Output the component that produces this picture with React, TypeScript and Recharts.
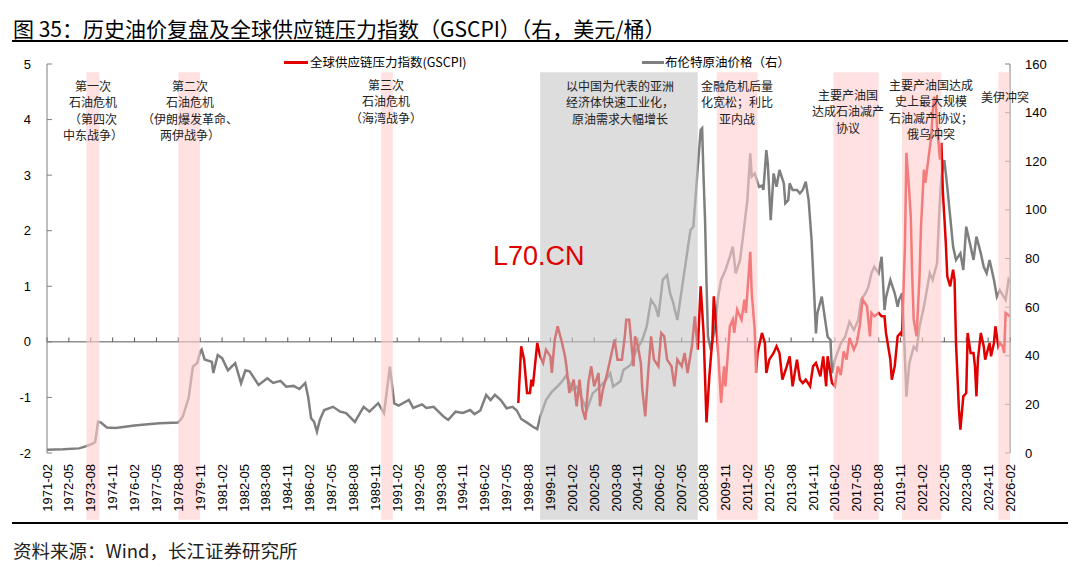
import { LineChart, Line, XAxis, YAxis, ReferenceArea, ReferenceLine } from "recharts"

// month labels shown on the x axis (every 15 months)
const tickMonths = [
  "1971-02", "1972-05", "1973-08", "1974-11", "1976-02", "1977-05", "1978-08", "1979-11",
  "1981-02", "1982-05", "1983-08", "1984-11", "1986-02", "1987-05", "1988-08", "1989-11",
  "1991-02", "1992-05", "1993-08", "1994-11", "1996-02", "1997-05", "1998-08", "1999-11",
  "2001-02", "2002-05", "2003-08", "2004-11", "2006-02", "2007-05", "2008-08", "2009-11",
  "2011-02", "2012-05", "2013-08", "2014-11", "2016-02", "2017-05", "2018-08", "2019-11",
  "2021-02", "2022-05", "2023-08", "2024-11", "2026-02",
]

const leftTicks = [-2, -1, 0, 1, 2, 3, 4, 5]
const rightTicks = [0, 20, 40, 60, 80, 100, 120, 140, 160]

// 全球供应链压力指数 (left axis)
const gscpi: [string, number][] = [
  ["1998-01", -1.1], ["1998-03", -0.08], ["1998-05", -0.32], ["1998-07", -0.92], ["1998-09", -0.92],
  ["1998-10", -0.68], ["1998-11", -0.8], ["1999-02", -0.02], ["1999-04", -0.26], ["1999-06", -0.38],
  ["1999-08", -0.14], ["1999-11", -0.26], ["1999-12", -0.56], ["2000-02", 0.04], ["2000-04", 0.28],
  ["2000-07", -0.02], ["2000-09", -0.26], ["2000-10", -0.44], ["2000-12", -0.92], ["2001-03", -0.68],
  ["2001-05", -1.16], ["2001-07", -0.68], ["2001-09", -1.22], ["2001-11", -1.4], ["2002-01", -0.74],
  ["2002-03", -0.44], ["2002-05", -0.8], ["2002-08", -0.56], ["2002-09", -1.16], ["2002-11", -0.86],
  ["2003-02", -0.56], ["2003-05", -0.2], ["2003-07", 0.04], ["2003-09", -0.32], ["2003-12", -0.32],
  ["2004-02", 0.1], ["2004-03", 0.4], ["2004-05", 0.4], ["2004-08", -0.44], ["2004-09", 0.1],
  ["2004-11", -0.08], ["2005-01", -0.38], ["2005-02", -0.86], ["2005-04", -1.34], ["2005-06", -0.56],
  ["2005-08", 0.1], ["2005-10", -0.32], ["2006-01", -0.44], ["2006-03", 0.16], ["2006-05", 0.1],
  ["2006-07", -0.32], ["2006-10", -0.44], ["2006-12", -0.8], ["2007-02", -0.32], ["2007-05", -0.44],
  ["2007-07", -0.2], ["2007-09", -0.56], ["2007-12", -0.08], ["2008-02", 0.46], ["2008-04", -0.14],
  ["2008-06", 1.0], ["2008-08", 0.16], ["2008-10", -1.45], ["2008-12", -0.6], ["2009-02", 0.04],
  ["2009-03", 0.82], ["2009-05", 0.16], ["2009-06", -0.2], ["2009-08", -1.1], ["2009-10", -0.44],
  ["2009-11", -0.8], ["2010-02", 0.28], ["2010-04", 0.4], ["2010-05", 0.16], ["2010-07", 0.58],
  ["2010-10", 0.4], ["2010-12", 0.76], ["2011-01", 0.52], ["2011-04", 1.62], ["2011-05", 0.88],
  ["2011-07", 0.22], ["2011-08", -0.56], ["2011-09", -0.2], ["2011-12", 0.16], ["2012-02", -0.02],
  ["2012-03", -0.56], ["2012-05", -0.32], ["2012-08", -0.2], ["2012-10", -0.08], ["2012-12", -0.2],
  ["2013-02", -0.68], ["2013-05", -0.44], ["2013-07", -0.26], ["2013-09", -0.8], ["2013-12", -0.32],
  ["2014-02", -0.68], ["2014-04", -0.74], ["2014-06", -0.68], ["2014-09", -0.8], ["2014-11", -0.44],
  ["2015-01", -0.38], ["2015-04", -0.62], ["2015-06", -0.26], ["2015-08", -0.8], ["2015-09", -0.26],
  ["2015-12", -0.74], ["2016-02", -0.8], ["2016-04", -0.44], ["2016-06", -0.6], ["2016-08", -0.17],
  ["2016-10", -0.32], ["2016-12", 0.07], ["2017-03", -0.14], ["2017-05", -0.02], ["2017-07", 0.28],
  ["2017-09", 0.76], ["2017-12", 0.64], ["2018-02", 0.1], ["2018-03", 0.52], ["2018-05", 0.46],
  ["2018-08", 0.52], ["2018-10", 0.46], ["2018-12", 0.46], ["2019-01", 0.16], ["2019-04", -0.32],
  ["2019-05", -0.68], ["2019-07", -0.44], ["2019-09", 0.1], ["2019-11", 0.16], ["2019-12", 0.1],
  ["2020-02", 1.72], ["2020-03", 3.4], ["2020-05", 2.68], ["2020-06", 2.25], ["2020-07", 1.18],
  ["2020-08", 0.4], ["2020-10", 0.1], ["2020-12", 1.18], ["2021-01", 2.07], ["2021-03", 3.1],
  ["2021-04", 2.86], ["2021-06", 3.28], ["2021-08", 3.69], ["2021-09", 4.12], ["2021-10", 4.41],
  ["2021-11", 4.35], ["2021-12", 3.87], ["2022-02", 3.28], ["2022-03", 3.58], ["2022-04", 2.68],
  ["2022-05", 2.25], ["2022-06", 1.78], ["2022-07", 1.18], ["2022-09", 1.0], ["2022-11", 1.3],
  ["2022-12", 1.12], ["2023-01", -0.02], ["2023-03", -1.22], ["2023-04", -1.58], ["2023-06", -0.98],
  ["2023-08", -0.92], ["2023-09", 0.16], ["2023-11", -0.2], ["2024-01", -0.2], ["2024-02", -0.44],
  ["2024-03", -0.98], ["2024-04", -0.32], ["2024-06", 0.16], ["2024-08", -0.08], ["2024-09", -0.32],
  ["2024-12", -0.02], ["2025-01", -0.26], ["2025-03", -0.02], ["2025-04", 0.28], ["2025-06", -0.08],
  ["2025-07", -0.02], ["2025-09", -0.08], ["2025-10", -0.2], ["2025-11", 0.52], ["2026-02", 0.46],
]

// 布伦特原油价格, 美元/桶 (right axis)
const brent: [string, number][] = [
  ["1971-02", 1.3], ["1972-01", 1.5], ["1972-12", 1.9], ["1973-05", 2.8], ["1973-09", 3.8],
  ["1973-11", 4.5], ["1974-01", 12.9], ["1974-03", 12.5], ["1974-07", 10.5], ["1975-01", 10.3],
  ["1976-02", 11.3], ["1977-01", 11.9], ["1977-07", 12.2], ["1978-08", 12.5], ["1978-11", 14.9],
  ["1979-03", 22.5], ["1979-06", 35.5], ["1979-09", 37.0], ["1979-11", 41.7], ["1979-12", 42.5],
  ["1980-02", 38.5], ["1980-07", 37.5], ["1980-08", 32.9], ["1980-11", 40.3], ["1981-02", 39.0],
  ["1981-06", 34.0], ["1981-11", 37.0], ["1982-03", 28.7], ["1982-06", 34.0], ["1982-09", 33.5],
  ["1983-03", 28.0], ["1983-09", 30.7], ["1984-01", 28.8], ["1984-06", 29.7], ["1984-10", 27.3],
  ["1985-03", 27.6], ["1985-07", 26.3], ["1985-11", 28.8], ["1986-01", 23.0], ["1986-03", 14.3],
  ["1986-05", 12.9], ["1986-07", 8.8], ["1986-09", 13.6], ["1986-12", 17.7], ["1987-06", 19.0],
  ["1987-11", 17.0], ["1988-03", 16.4], ["1988-09", 12.8], ["1989-03", 19.0], ["1989-07", 17.0],
  ["1990-01", 20.5], ["1990-05", 16.4], ["1990-09", 35.5], ["1990-12", 20.4], ["1991-03", 19.5],
  ["1991-10", 21.8], ["1992-01", 18.5], ["1992-07", 20.0], ["1992-10", 18.5], ["1993-03", 19.0],
  ["1993-10", 14.9], ["1994-01", 13.6], ["1994-06", 17.0], ["1994-11", 16.5], ["1995-04", 17.7],
  ["1995-07", 16.0], ["1995-11", 17.5], ["1996-03", 23.9], ["1996-06", 21.8], ["1996-09", 23.9],
  ["1997-01", 21.8], ["1997-05", 18.4], ["1997-09", 19.0], ["1997-12", 17.5], ["1998-03", 14.0],
  ["1998-07", 12.5], ["1998-11", 10.8], ["1999-02", 9.8], ["1999-04", 15.0], ["1999-08", 21.8],
  ["1999-12", 25.2], ["2000-06", 28.7], ["2000-10", 32.0], ["2001-02", 25.9], ["2001-05", 27.3],
  ["2001-08", 23.2], ["2001-12", 17.7], ["2002-04", 24.5], ["2002-09", 27.3], ["2003-01", 30.0],
  ["2003-04", 32.8], ["2003-06", 27.3], ["2003-11", 29.5], ["2004-01", 34.1], ["2004-06", 36.2],
  ["2004-10", 42.4], ["2005-02", 46.5], ["2005-05", 52.0], ["2005-08", 63.0], ["2005-11", 60.2],
  ["2006-01", 56.0], ["2006-04", 71.2], ["2006-07", 73.2], ["2006-09", 65.7], ["2006-11", 62.2],
  ["2007-02", 54.7], ["2007-04", 63.0], ["2007-07", 75.3], ["2007-11", 91.7], ["2008-01", 93.1],
  ["2008-03", 109.5], ["2008-06", 132.9], ["2008-07", 133.6], ["2008-08", 113.0], ["2008-09", 96.0],
  ["2008-10", 70.0], ["2008-11", 48.0], ["2009-01", 42.4], ["2009-03", 49.3], ["2009-04", 52.0],
  ["2009-06", 64.3], ["2009-08", 71.2], ["2009-11", 75.3], ["2010-02", 80.7], ["2010-04", 84.9],
  ["2010-06", 73.9], ["2010-09", 79.4], ["2010-11", 89.0], ["2011-02", 104.0], ["2011-04", 123.3],
  ["2011-05", 113.7], ["2011-07", 115.0], ["2011-10", 109.5], ["2011-12", 110.0], ["2012-01", 108.2],
  ["2012-03", 124.6], ["2012-04", 119.0], ["2012-06", 95.8], ["2012-08", 115.0], ["2012-10", 109.5],
  ["2012-12", 116.4], ["2013-03", 110.9], ["2013-04", 102.7], ["2013-06", 104.0], ["2013-07", 110.9],
  ["2013-09", 108.2], ["2013-12", 108.2], ["2014-02", 106.8], ["2014-04", 108.2], ["2014-06", 111.6],
  ["2014-08", 104.0], ["2014-10", 87.6], ["2014-12", 62.9], ["2015-01", 49.2], ["2015-02", 57.5],
  ["2015-05", 64.3], ["2015-07", 56.0], ["2015-09", 47.8], ["2015-11", 46.5], ["2015-12", 32.8],
  ["2016-02", 38.3], ["2016-06", 45.0], ["2016-09", 47.8], ["2016-12", 54.0], ["2017-03", 50.6],
  ["2017-06", 54.7], ["2017-08", 63.0], ["2017-11", 65.7], ["2018-01", 68.4], ["2018-03", 73.9],
  ["2018-05", 76.6], ["2018-08", 73.9], ["2018-10", 80.7], ["2018-11", 70.0], ["2018-12", 58.8],
  ["2019-01", 64.0], ["2019-04", 71.2], ["2019-07", 65.7], ["2019-09", 60.2], ["2019-10", 63.0],
  ["2019-12", 65.7], ["2020-01", 54.7], ["2020-03", 23.2], ["2020-05", 36.9], ["2020-08", 43.7],
  ["2020-10", 42.4], ["2020-12", 52.0], ["2021-03", 60.2], ["2021-05", 67.0], ["2021-07", 73.9],
  ["2021-09", 71.2], ["2021-12", 78.0], ["2022-01", 92.0], ["2022-02", 104.0], ["2022-03", 113.7],
  ["2022-05", 120.5], ["2022-07", 109.5], ["2022-09", 97.2], ["2022-11", 84.9], ["2023-01", 79.4],
  ["2023-04", 82.1], ["2023-06", 75.3], ["2023-08", 93.1], ["2023-11", 84.9], ["2024-01", 79.4],
  ["2024-03", 89.0], ["2024-06", 82.1], ["2024-08", 76.6], ["2024-10", 73.9], ["2024-12", 79.4],
  ["2025-03", 71.2], ["2025-05", 64.3], ["2025-07", 67.0], ["2025-11", 63.0], ["2026-01", 71.2],
  ["2026-02", 70.0],
]

// shaded periods
const pinkBands: [string, string][] = [
  ["1973-05", "1974-02"], ["1978-08", "1979-11"], ["1990-03", "1990-11"], ["2009-05", "2011-09"],
  ["2016-01", "2018-08"], ["2019-12", "2022-03"], ["2025-06", "2026-02"],
]
const grayBand: [string, string] = ["1999-04", "2008-04"]

const notes = [
  { cx: 93, top: 78, lines: ["第一次", "石油危机", "（第四次", "中东战争）"] },
  { cx: 190, top: 78, lines: ["第二次", "石油危机", "（伊朗爆发革命、", "两伊战争）"] },
  { cx: 386, top: 77, lines: ["第三次", "石油危机", "（海湾战争）"] },
  { cx: 620, top: 78, lines: ["以中国为代表的亚洲", "经济体快速工业化，", "原油需求大幅增长"] },
  { cx: 737, top: 78, lines: ["金融危机后量", "化宽松；利比", "亚内战"] },
  { cx: 848, top: 87, lines: ["主要产油国", "达成石油减产", "协议"] },
  { cx: 931, top: 77, lines: ["主要产油国达成", "史上最大规模", "石油减产协议；", "俄乌冲突"] },
  { cx: 1005, top: 89, lines: ["美伊冲突"] },
]

const toIdx = (m: string) => {
  const [y, mo] = m.split("-").map(Number)
  return (y - 1971) * 12 + mo - 2
}

const tickIdx = tickMonths.map(toIdx)
const gscpiData = gscpi.map(([m, v]) => ({ t: toIdx(m), v }))
const brentData = brent.map(([m, v]) => ({ t: toIdx(m), v }))

const CJK = "'Noto Sans CJK SC', 'Noto Sans', sans-serif"
const NUM = "'Liberation Sans', Arial, sans-serif"
const RED = "#e00000"
const GRAY = "#7f7f7f"

function MonthTick(props: any) {
  const { x, y, payload } = props
  const label = tickMonths[tickIdx.indexOf(payload.value)]
  return (
    <text
      x={x}
      y={y}
      transform={`rotate(-90 ${x} ${y})`}
      textAnchor="end"
      dy="0.35em"
      fontSize={13}
      fill="#000"
      fontFamily={NUM}
    >
      {label}
    </text>
  )
}

export default function App() {
  return (
    <div style={{ position: "absolute", left: 0, top: 0, width: 1080, height: 567, background: "#fff", overflow: "hidden" }}>
      <div style={{ position: "absolute", left: 13, top: 14, fontSize: 21, lineHeight: "28px", fontFamily: CJK, color: "#000", whiteSpace: "nowrap" }}>
        图 35：历史油价复盘及全球供应链压力指数（GSCPI）（右，美元/桶）
      </div>
      <div style={{ position: "absolute", left: 12, top: 40, width: 1056, height: 2, background: "#000" }} />

      <div style={{ position: "absolute", left: 0, top: 0 }}>
        <LineChart width={1080} height={567} margin={{ top: 64, right: 30, bottom: 44, left: 7 }}>
          <XAxis
            type="number"
            dataKey="t"
            domain={[0, 660]}
            ticks={tickIdx}
            interval={0}
            allowDataOverflow
            axisLine={false}
            tickLine={false}
            tickSize={0}
            tickMargin={11}
            height={70}
            tick={<MonthTick />}
          />
          <YAxis
            yAxisId="left"
            domain={[-2, 5]}
            ticks={leftTicks}
            interval={0}
            width={40}
            axisLine={{ stroke: GRAY }}
            tickLine={false}
            tickSize={0}
            tickMargin={16}
            tick={{ fontSize: 13, fill: "#000", fontFamily: NUM }}
          />
          <YAxis
            yAxisId="right"
            orientation="right"
            domain={[0, 160]}
            ticks={rightTicks}
            interval={0}
            width={40}
            axisLine={{ stroke: GRAY }}
            tickLine={false}
            tickSize={0}
            tickMargin={15}
            tick={{ fontSize: 13, fill: "#000", fontFamily: NUM, textAnchor: "start" }}
          />
          <ReferenceLine yAxisId="left" y={0} stroke="#595959" strokeWidth={1} />
          {tickIdx.map((t) => (
            <ReferenceLine key={"zt" + t} yAxisId="left" segment={[{ x: t, y: 0 }, { x: t, y: 0.08 }]} stroke="#595959" />
          ))}
          {leftTicks.map((v) => (
            <ReferenceLine key={"lt" + v} yAxisId="left" segment={[{ x: 0, y: v }, { x: 3.4, y: v }]} stroke={GRAY} />
          ))}
          {rightTicks.map((v) => (
            <ReferenceLine key={"rt" + v} yAxisId="right" segment={[{ x: 656.6, y: v }, { x: 660, y: v }]} stroke={GRAY} />
          ))}
          <Line
            yAxisId="right"
            data={brentData}
            dataKey="v"
            stroke={GRAY}
            strokeWidth={2.5}
            dot={false}
            activeDot={false}
            isAnimationActive={false}
          />
          <Line
            yAxisId="left"
            data={gscpiData}
            dataKey="v"
            stroke={RED}
            strokeWidth={2.5}
            dot={false}
            activeDot={false}
            isAnimationActive={false}
          />
          <ReferenceArea
            yAxisId="left"
            x1={toIdx(grayBand[0])}
            x2={toIdx(grayBand[1])}
            y1={-3.2}
            y2={4.85}
            ifOverflow="visible"
            fill="#c6c6c6"
            fillOpacity={0.6}
            stroke="none"
            zIndex={1600}
          />
          {pinkBands.map(([a, b]) => (
            <ReferenceArea
              key={a}
              yAxisId="left"
              x1={toIdx(a)}
              x2={toIdx(b)}
              y1={-3.2}
              y2={4.85}
              ifOverflow="visible"
              fill="#ffcdcd"
              fillOpacity={0.6}
              stroke="none"
              zIndex={1600}
            />
          ))}
        </LineChart>
      </div>

      {/* legend */}
      <div style={{ position: "absolute", left: 284, top: 61, width: 24, height: 2.5, background: RED }} />
      <div style={{ position: "absolute", left: 310, top: 53, fontSize: 12.5, lineHeight: "18px", fontFamily: CJK, color: "#000", whiteSpace: "nowrap" }}>
        全球供应链压力指数(GSCPI)
      </div>
      <div style={{ position: "absolute", left: 642, top: 61, width: 22, height: 2.5, background: GRAY }} />
      <div style={{ position: "absolute", left: 665, top: 53, fontSize: 12.5, lineHeight: "18px", fontFamily: CJK, color: "#000", whiteSpace: "nowrap" }}>
        布伦特原油价格（右）
      </div>

      {notes.map((n) => (
        <div
          key={n.lines[0] + n.cx}
          style={{
            position: "absolute",
            left: n.cx,
            top: n.top,
            transform: "translateX(-50%)",
            textAlign: "center",
            whiteSpace: "nowrap",
            fontSize: 12,
            lineHeight: "16.3px",
            fontFamily: CJK,
            color: "#222",
          }}
        >
          {n.lines.map((l) => (
            <div key={l}>{l}</div>
          ))}
        </div>
      ))}

      <div style={{ position: "absolute", left: 493, top: 240, fontSize: 27, lineHeight: "32px", fontFamily: NUM, color: RED }}>
        L70.CN
      </div>

      <div style={{ position: "absolute", left: 12, top: 522, width: 1056, height: 2, background: "#000" }} />
      <div style={{ position: "absolute", left: 13, top: 537, fontSize: 18.5, lineHeight: "26px", fontFamily: CJK, color: "#222", whiteSpace: "nowrap" }}>
        资料来源：Wind，长江证券研究所
      </div>
    </div>
  )
}
